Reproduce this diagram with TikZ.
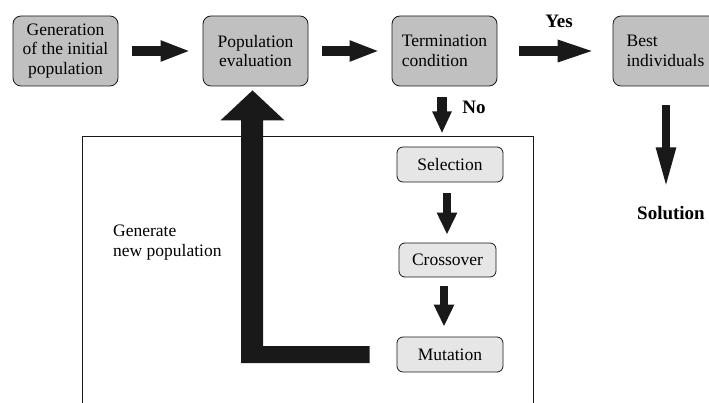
\documentclass[tikz,border=0pt]{standalone}
\usepackage{fontspec}
\setmainfont{Liberation Serif}
\usetikzlibrary{calc,arrows.meta}
\definecolor{boxgray}{RGB}{192,192,192}
\definecolor{subgray}{RGB}{230,230,230}
\definecolor{ink}{RGB}{25,25,25}
\tikzset{
  mainbox/.style={draw=ink, line width=0.8pt, fill=boxgray, rounded corners=8pt,
    minimum width=105pt, minimum height=70pt, inner sep=0pt, align=center,
    font=\fontsize{17.5}{19.5}\selectfont},
  subbox/.style={draw=ink, line width=0.8pt, fill=subgray, rounded corners=6pt,
    minimum width=106pt, minimum height=35pt, inner sep=0pt,
    font=\fontsize{17.5}{19.5}\selectfont},
  fatarrow/.style={draw=ink, line width=10pt, -{Triangle[length=30pt,width=19pt]}},
  thinarrow/.style={draw=ink, line width=8.5pt, -{Triangle[length=22pt,width=19pt]}},
  lbl/.style={inner sep=0pt, font=\bfseries\fontsize{19}{22}\selectfont},
  plain/.style={inner sep=0pt, align=left, font=\fontsize{17.5}{20}\selectfont},
  frame/.style={draw=ink, line width=1.3pt}
}
\begin{document}
\begin{tikzpicture}[x=1pt,y=-1pt]
\useasboundingbox (0,0) rectangle (709,403);
\clip (0,0) rectangle (709,403);
\fill[white] (0,0) rectangle (709,403);

% frame of the inner loop
\node[frame, minimum width=451pt, minimum height=300pt, anchor=north west, inner sep=0pt] (loop) at (82,136) {};

% top row
\node[mainbox] (b1) at (65.5,51) {Generation\\of the initial\\population};
\node[mainbox] (b2) at (255.5,51) {Population\\evaluation};
\node[mainbox, align=left] (b3) at (444.5,51) {Termination\\condition};
\node[mainbox, align=left] (b4) at (665.5,51) {Best\\individuals};

% sub boxes
\node[subbox] (sel) at (450,164.5) {Selection};
\node[subbox, minimum width=97pt, minimum height=34pt] (cro) at (447.5,260) {Crossover};
\node[subbox] (mut) at (450,354.5) {Mutation};

% labels
\node[lbl] (yes) at (559,21) {Yes};
\node[lbl] (no) at (474,107) {No};
\node[lbl] (sol) at (671,213) {Solution};
\node[plain, anchor=west] (gen) at (113,243) {Generate\\new population};

% horizontal arrows
\draw[fatarrow] ($(b1.east)+(14,0)$) -- ($(b2.west)+(-12,0)$);
\draw[fatarrow] ($(b2.east)+(14,0)$) -- ($(b3.west)+(-12,0)$);
\draw[fatarrow, -{Triangle[length=40pt,width=19pt]}] ($(b3.east)+(22,0)$) -- ($(b4.west)+(-15,0)$);

% vertical arrows
\draw[fatarrow, -{Triangle[length=22pt,width=18pt]}] ($(b3.south)+(-2.5,11)$) -- ($(b3.south)+(-2.5,47)$);
\draw[thinarrow] ($(sel.south)+(-3,11)$) -- ($(cro.north)+(-0.5,-8)$);
\draw[thinarrow] ($(cro.south)+(-3.5,9)$) -- ($(mut.north)+(-6,-10)$);
\draw[draw=ink, line width=8pt, -{Triangle[length=41pt,width=18pt]}] ($(b4.south)+(0.5,19)$) -- ($(b4.south)+(0.5,102)$);

% big return arrow (Mutation -> Population evaluation)
\coordinate (tip) at ($(b2.south)+(-3,4)$);
\coordinate (lend) at ($(mut.west)+(-27,0)$);
\fill[ink] ($(lend)+(0,-8.5)$) -- ($(tip|-lend)+(10.5,-8.5)$) -- ($(tip)+(10.5,30)$)
  -- ($(tip)+(32,30)$) -- (tip) -- ($(tip)+(-32,30)$) -- ($(tip)+(-11.5,30)$)
  -- ($(tip|-lend)+(-11.5,8.5)$) -- ($(lend)+(0,8.5)$) -- cycle;
\end{tikzpicture}
\end{document}
